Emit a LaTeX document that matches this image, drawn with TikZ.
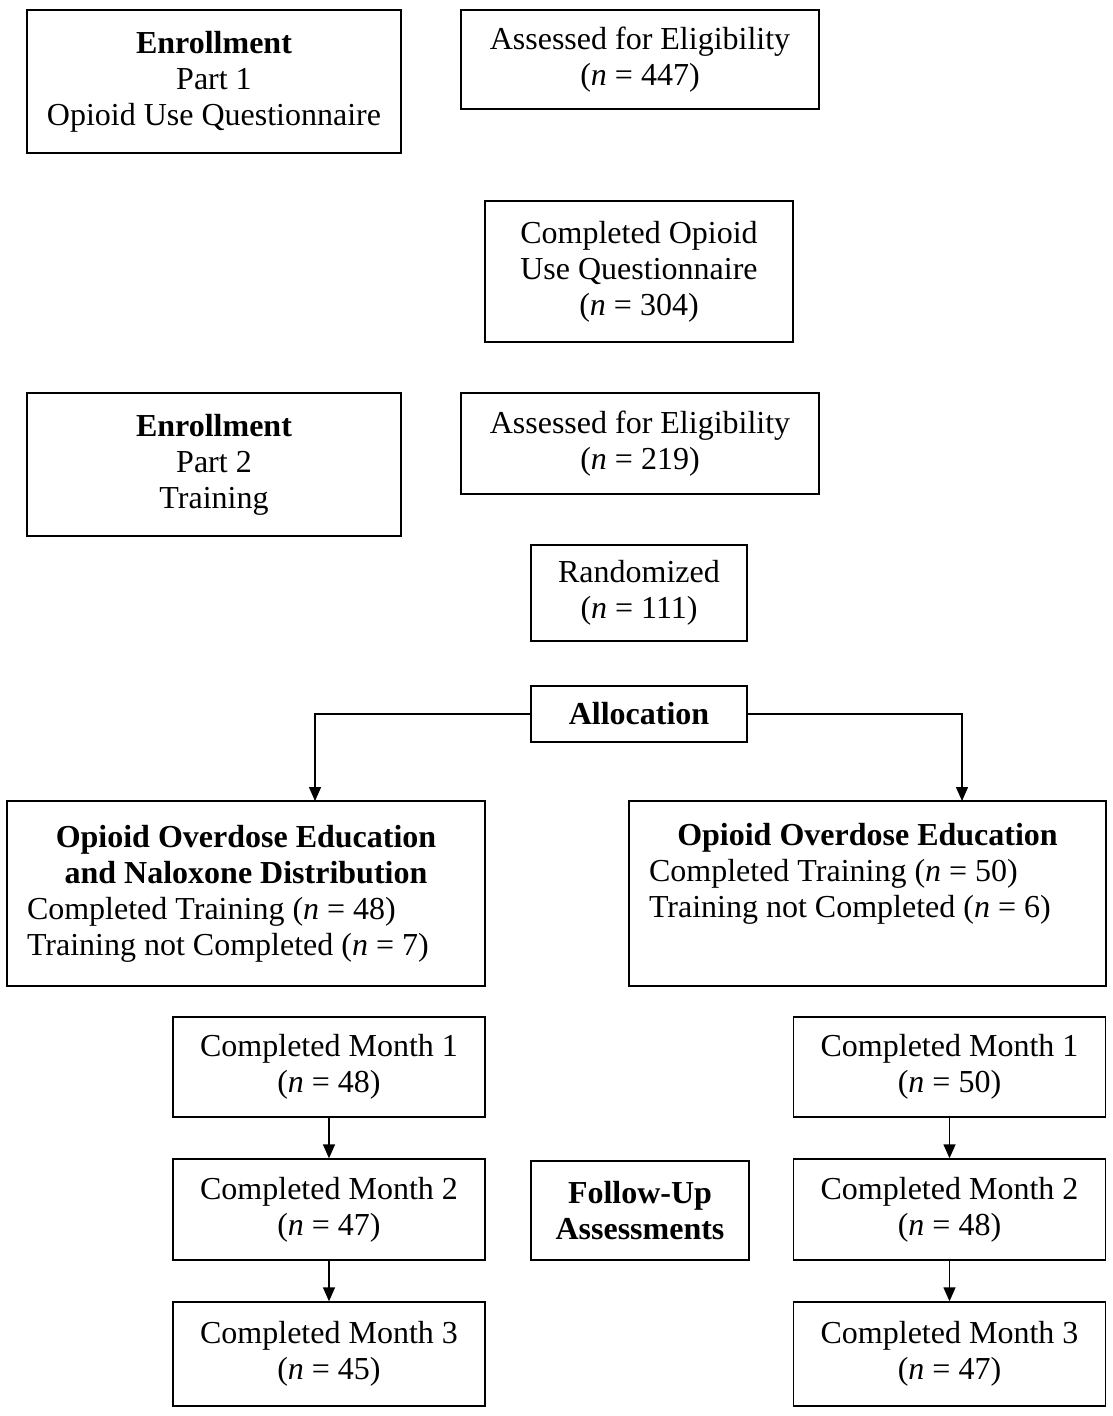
\documentclass[tikz,border=0pt]{standalone}
\usepackage{fontspec}
\setmainfont{Liberation Serif}
\usetikzlibrary{arrows.meta}
\begin{document}
\begin{tikzpicture}[x=0.5pt,y=-0.5pt,
  box/.style={draw,line width=0.7pt,align=center,inner sep=0pt,
    font=\fontsize{16pt}{18pt}\selectfont},
  sz/.style 2 args={minimum width=#1*0.5pt,minimum height=#2*0.5pt},
  arr/.style={line width=0.7pt,-{Triangle[length=7pt,width=6pt]}}]
 \useasboundingbox (0,0) rectangle (1112,1416);
 % enrollment, part 1
 \node[box,sz={374}{143}] (enr1) at (214,81.5) {\textbf{Enrollment}\\Part 1\\Opioid Use Questionnaire};
 \node[box,sz={358}{99}] (elig1) at (640,59.5) {Assessed for Eligibility\\(\textit{n} = 447)};
 \node[box,sz={308}{141}] (quest) at (639,271.5) {Completed Opioid\\Use Questionnaire\\(\textit{n} = 304)};
 % enrollment, part 2
 \node[box,sz={374}{143}] (enr2) at (214,464.5) {\textbf{Enrollment}\\Part 2\\Training};
 \node[box,sz={358}{101}] (elig2) at (640,443.5) {Assessed for Eligibility\\(\textit{n} = 219)};
 \node[box,sz={216}{96}] (rand) at (639,593) {Randomized\\(\textit{n} = 111)};
 \node[box,sz={216}{56}] (alloc) at (639,714) {\textbf{Allocation}};
 % the two arms
 \node[box,sz={478}{185},align=left,text width=219pt] (oend) at (246,893.5)
   {\spaceskip=0pt\xspaceskip=0pt
    {\centering\bfseries Opioid Overdose Education\\and Naloxone Distribution\par}%
    \raggedright Completed Training (\textit{n} = 48)\\Training not Completed (\textit{n} = 7)\par\vspace{4pt}};
 \node[box,sz={477}{185},align=left,text width=218.5pt] (oed) at (867.5,893.5)
   {\spaceskip=0pt\xspaceskip=0pt
    {\centering\bfseries Opioid Overdose Education\par}%
    \raggedright Completed Training (\textit{n} = 50)\\Training not Completed (\textit{n} = 6)\\\strut\par\vspace{4pt}};
 \coordinate (kL) at (315,801);
 \coordinate (kR) at (962,801);
 \draw[arr] (alloc.west) -| (kL);
 \draw[arr] (alloc.east) -| (kR);
 % follow-up
 \node[box,sz={218}{99}] (fu) at (640,1210.5) {\textbf{Follow-Up}\\\textbf{Assessments}};
 \foreach \s/\x/\a/\b/\c in {L/329/48/47/45,R/949.5/50/48/47}{
   \node[box,sz={312}{100}] (m1\s) at (\x,1067) {Completed Month 1\\(\textit{n} = \a)};
   \node[box,sz={312}{101}] (m2\s) at (\x,1209.5) {Completed Month 2\\(\textit{n} = \b)};
   \node[box,sz={312}{104}] (m3\s) at (\x,1354) {Completed Month 3\\(\textit{n} = \c)};
   \draw[arr] (m1\s) -- (m2\s);
   \draw[arr] (m2\s) -- (m3\s);}
\end{tikzpicture}
\end{document}
